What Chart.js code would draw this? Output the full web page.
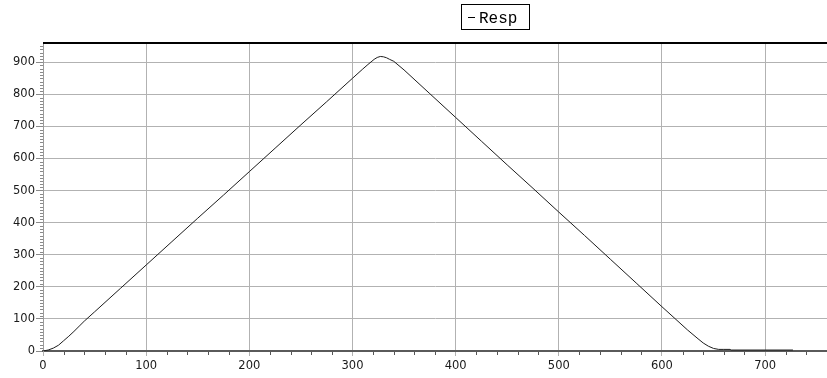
<!DOCTYPE html>
<html>
<head>
<meta charset="utf-8">
<title>Resp</title>
<script src="https://cdn.jsdelivr.net/npm/chart.js@4/dist/chart.umd.min.js"></script>
<style>
  html, body { margin: 0; padding: 0; background: #ffffff; }
  #wrap { width: 827px; height: 378px; }
</style>
</head>
<body>
<div id="wrap"><canvas id="chart" width="827" height="378"></canvas></div>
<script>
// Sample positions (x) and response values
const xValues = [0, 5, 10, 15, 20, 25, 30, 35, 40, 50, 75, 100, 125, 150, 175, 200, 225, 250, 275, 300,
  310, 315, 318, 321, 324, 327, 330, 333, 336, 340, 350, 375, 400, 425, 450, 475, 500, 525, 550, 575,
  600, 625, 635, 640, 645, 650, 655, 660, 666, 667, 700, 727];
const respValues = [0, 3, 9, 18, 32, 46, 61, 77, 93, 122, 195, 268, 341, 414, 486, 559, 632, 705, 777, 850,
  879, 893, 901, 909, 915, 918, 917, 914, 909, 903, 876, 802, 728, 654, 580, 507, 433, 360, 286, 212,
  138, 65, 38, 25, 15, 8, 5, 5, 5, 3, 3, 3];

// Axis tick labels
const xTicks = [0, 100, 200, 300, 400, 500, 600, 700];
const yTicks = [0, 100, 200, 300, 400, 500, 600, 700, 800, 900];
const seriesName = 'Resp';

const GRID = '#b2b2b2';
const TICK_FONT = { family: 'DejaVu Sans', size: 11.5 };

// Frame line, minor ticks and the boxed legend
const decorations = {
  id: 'decorations',
  afterDraw(chart) {
    const ctx = chart.ctx;
    const area = chart.chartArea;
    const xs = chart.scales.x;
    const ys = chart.scales.y;
    ctx.save();

    // minor ticks on the x axis
    ctx.strokeStyle = '#555555';
    ctx.lineWidth = 1;
    ctx.beginPath();
    for (let v = 20; v <= xs.max; v += 20) {
      if (v % 100 === 0) continue;
      const px = Math.round(xs.getPixelForValue(v)) + 0.5;
      ctx.moveTo(px, area.bottom + 1);
      ctx.lineTo(px, area.bottom + 4);
    }
    ctx.stroke();

    // minor ticks on the y axis
    ctx.strokeStyle = '#8a8a8a';
    ctx.beginPath();
    for (let v = 10; v < ys.max; v += 10) {
      if (v % 100 === 0) continue;
      const py = Math.round(ys.getPixelForValue(v)) + 0.5;
      ctx.moveTo(area.left - 3, py);
      ctx.lineTo(area.left, py);
    }
    ctx.stroke();

    // heavy top frame line
    ctx.strokeStyle = '#000000';
    ctx.lineWidth = 2;
    ctx.beginPath();
    ctx.moveTo(area.left, area.top);
    ctx.lineTo(area.right, area.top);
    ctx.stroke();

    // legend box
    const bx = 461.5, by = 4.5, bw = 68, bh = 25;
    ctx.fillStyle = '#ffffff';
    ctx.fillRect(bx, by, bw, bh);
    ctx.strokeStyle = '#000000';
    ctx.lineWidth = 1;
    ctx.strokeRect(bx, by, bw, bh);
    ctx.beginPath();
    ctx.moveTo(468, 17.5);
    ctx.lineTo(475, 17.5);
    ctx.stroke();
    ctx.fillStyle = '#000000';
    ctx.font = '16px "Liberation Mono"';
    ctx.textBaseline = 'alphabetic';
    ctx.textAlign = 'left';
    ctx.fillText(seriesName, 479, 22.5);

    ctx.restore();
  }
};

new Chart(document.getElementById('chart'), {
  type: 'line',
  data: {
    datasets: [{
      label: seriesName,
      data: xValues.map((x, i) => ({ x: x, y: respValues[i] })),
      borderColor: '#1c1c1c',
      borderWidth: 1,
      pointRadius: 0,
      tension: 0,
      fill: false
    }]
  },
  options: {
    responsive: false,
    animation: false,
    events: [],
    layout: { padding: { top: 43, right: 0, left: 0, bottom: 0 } },
    plugins: {
      legend: { display: false },
      title: { display: false },
      tooltip: { enabled: false }
    },
    scales: {
      x: {
        type: 'linear',
        min: 0,
        max: 760,
        afterBuildTicks: (scale) => { scale.ticks = xTicks.map(v => ({ value: v })); },
        afterFit: (scale) => { scale.height = 27; },
        grid: { color: GRID, lineWidth: 1, drawTicks: true, tickLength: 5, tickColor: GRID },
        border: { display: true, color: '#5a5a5a', width: 2 },
        ticks: { font: TICK_FONT, color: '#1a1a1a', padding: 3, maxRotation: 0, autoSkip: false }
      },
      y: {
        type: 'linear',
        min: 0,
        max: 960,
        afterBuildTicks: (scale) => { scale.ticks = yTicks.map(v => ({ value: v })); },
        afterFit: (scale) => { scale.width = 43; },
        grid: { color: GRID, lineWidth: 1, drawTicks: true, tickLength: 7, tickColor: '#8a8a8a' },
        border: { display: true, color: '#9a9a9a', width: 1 },
        ticks: { font: TICK_FONT, color: '#1a1a1a', padding: 1, autoSkip: false }
      }
    }
  },
  plugins: [decorations]
});
</script>
</body>
</html>
